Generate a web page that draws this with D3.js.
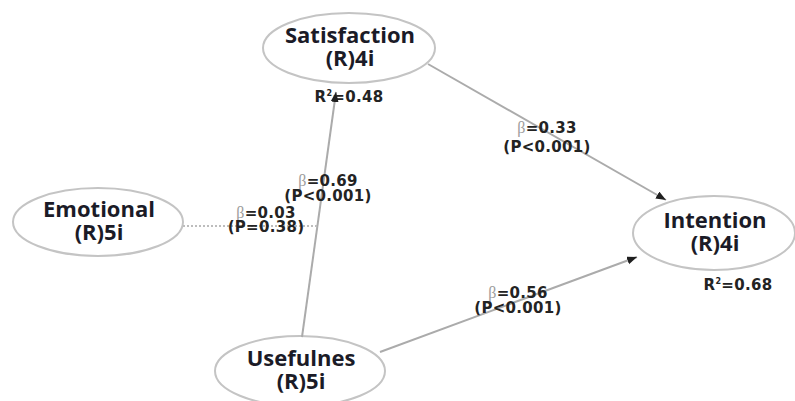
<!DOCTYPE html>
<html>
<head>
<meta charset="utf-8">
<script src="https://cdn.jsdelivr.net/npm/d3@7"></script>
<style>
    body { margin: 0; background: #fff; }
    .node-name { font-family: 'Open Sans', sans-serif; font-weight: 700; font-size: 22px; fill: #1b1b27; }
    .path-label { font-family: 'DejaVu Sans', sans-serif; font-weight: 700; font-size: 15px; letter-spacing: 0.3px; fill: #232323; }
    .beta { font-family: 'Liberation Serif', serif; font-weight: 400; fill: #9c9c9c; }
</style>
</head>
<body>
<div id="path-model"></div>
<script>
// constructs of the model
const constructs = ['Satisfaction', 'Emotional', 'Intention', 'Usefulnes'];
const constructItems = ['(R)4i', '(R)5i', '(R)4i', '(R)5i'];

// structural paths
const pathFrom = ['Usefulnes', 'Satisfaction', 'Usefulnes', 'Emotional'];
const pathTo = ['Satisfaction', 'Intention', 'Intention', 'Satisfaction'];
const pathBeta = [0.69, 0.33, 0.56, 0.03];
const pathP = ['<0.001', '<0.001', '<0.001', '=0.38'];

// explained variance
const r2Construct = ['Satisfaction', 'Intention'];
const r2Value = [0.48, 0.68];

// layout of the diagram (not data)
const nodeLayout = {
    Satisfaction: {cx: 349, cy: 48, rx: 86, ry: 35},
    Emotional: {cx: 98, cy: 222, rx: 85, ry: 34},
    Intention: {cx: 714, cy: 233, rx: 81, ry: 37},
    Usefulnes: {cx: 300, cy: 371, rx: 85, ry: 35}
};
const edgeLayout = [
    {start: [2, -34], end: [-13, 44], label: [328, 186], gap: 15, dashed: false},
    {start: [79, 16], end: [-48, -33], label: [547, 133], gap: 19, dashed: false},
    {start: [80, -19], end: [-77, 24], label: [518, 298], gap: 15, dashed: false},
    {start: [85, 4], joins: 0, label: [266, 218], gap: 14, dashed: true}
];
const r2Layout = {
    Satisfaction: [0, 54],
    Intention: [24, 57]
};

function createPathModel() {
    const container = d3.select('#path-model');
    container.html('');

    const width = 795;
    const height = 401;

    const x = d3.scaleLinear().domain([0, 795]).range([0, width]);
    const y = d3.scaleLinear().domain([0, 401]).range([0, height]);
    const fmt = d3.format('.2f');

    const svg = container.append('svg')
        .attr('width', width)
        .attr('height', height);

    svg.append('defs').append('marker')
        .attr('id', 'arrow')
        .attr('markerUnits', 'userSpaceOnUse')
        .attr('markerWidth', 11)
        .attr('markerHeight', 9)
        .attr('refX', 10)
        .attr('refY', 4)
        .attr('orient', 'auto')
        .append('path')
        .attr('d', 'M0,0 L10,4 L0,8 Z')
        .attr('fill', '#1f1f1f');

    const nodes = constructs.map((name, i) => ({
        name: name,
        items: constructItems[i],
        ...nodeLayout[name]
    }));
    const byName = {};
    nodes.forEach(n => byName[n.name] = n);

    // ellipses
    svg.selectAll('.construct')
        .data(nodes)
        .enter()
        .append('ellipse')
        .attr('class', 'construct')
        .attr('cx', d => x(d.cx))
        .attr('cy', d => y(d.cy))
        .attr('rx', d => x(d.rx) - x(0))
        .attr('ry', d => y(d.ry) - y(0))
        .attr('fill', '#fff')
        .attr('stroke', '#c4c4c4')
        .attr('stroke-width', 2);

    // R squared labels, under the arrows
    const r2 = svg.selectAll('.r2')
        .data(r2Construct.map((c, i) => ({node: byName[c], value: r2Value[i], off: r2Layout[c]})))
        .enter()
        .append('text')
        .attr('class', 'path-label r2')
        .attr('text-anchor', 'middle')
        .attr('x', d => x(d.node.cx + d.off[0]))
        .attr('y', d => y(d.node.cy + d.off[1]));
    r2.append('tspan').text('R');
    r2.append('tspan').attr('font-size', 8).attr('dy', -6).text('2');
    r2.append('tspan').attr('dy', 6).text(d => '=' + fmt(d.value));

    // paths
    const edges = pathFrom.map((from, i) => {
        const s = byName[from];
        const t = byName[pathTo[i]];
        const lay = edgeLayout[i];
        return {
            beta: pathBeta[i],
            p: pathP[i],
            lay: lay,
            x1: s.cx + lay.start[0],
            y1: s.cy + lay.start[1],
            x2: lay.joins === undefined ? t.cx + lay.end[0] : null,
            y2: lay.joins === undefined ? t.cy + lay.end[1] : null
        };
    });
    // the non-significant path is drawn onto the Usefulnes -> Satisfaction line
    edges.forEach(e => {
        if (e.lay.joins !== undefined) {
            const j = edges[e.lay.joins];
            const k = (e.y1 - j.y1) / (j.y2 - j.y1);
            e.x2 = j.x1 + k * (j.x2 - j.x1);
            e.y2 = e.y1;
        }
    });

    svg.selectAll('.path-line')
        .data(edges)
        .enter()
        .append('line')
        .attr('class', 'path-line')
        .attr('x1', d => x(d.x1))
        .attr('y1', d => y(d.y1))
        .attr('x2', d => x(d.x2))
        .attr('y2', d => y(d.y2))
        .attr('stroke', d => d.lay.dashed ? '#bdbdbd' : '#ababab')
        .attr('stroke-width', 2)
        .attr('stroke-dasharray', d => d.lay.dashed ? '2,2' : null)
        .attr('marker-end', d => d.lay.dashed ? null : 'url(#arrow)');

    // path coefficients
    const betaText = svg.selectAll('.beta-label')
        .data(edges)
        .enter()
        .append('text')
        .attr('class', 'path-label beta-label')
        .attr('text-anchor', 'middle')
        .attr('x', d => x(d.lay.label[0]))
        .attr('y', d => y(d.lay.label[1]));
    betaText.append('tspan').attr('class', 'beta').attr('font-size', 16).text('β');
    betaText.append('tspan').text(d => '=' + fmt(d.beta));

    svg.selectAll('.p-label')
        .data(edges)
        .enter()
        .append('text')
        .attr('class', 'path-label p-label')
        .attr('text-anchor', 'middle')
        .attr('x', d => x(d.lay.label[0]))
        .attr('y', d => y(d.lay.label[1] + d.lay.gap))
        .text(d => '(P' + d.p + ')');

    // construct names
    svg.selectAll('.name')
        .data(nodes)
        .enter()
        .append('text')
        .attr('class', 'node-name name')
        .attr('text-anchor', 'middle')
        .attr('x', d => x(d.cx + 1))
        .attr('y', d => y(d.cy - 5))
        .text(d => d.name);

    svg.selectAll('.items')
        .data(nodes)
        .enter()
        .append('text')
        .attr('class', 'node-name items')
        .attr('text-anchor', 'middle')
        .attr('x', d => x(d.cx + 1))
        .attr('y', d => y(d.cy + 18))
        .text(d => d.items);
}

createPathModel();
</script>
</body>
</html>
